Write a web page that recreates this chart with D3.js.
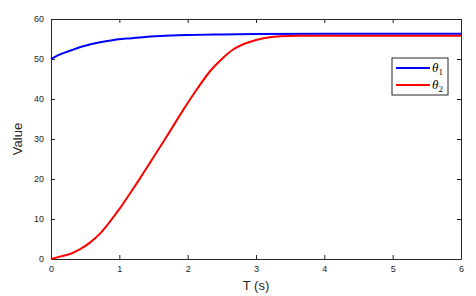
<!DOCTYPE html>
<html>
<head>
<meta charset="utf-8">
<script src="https://cdn.jsdelivr.net/npm/d3@7"></script>
<style>
  body { margin: 0; background: #fff; }
  .axis text { font-family: "Liberation Sans", Arial, sans-serif; font-size: 9px; fill: #262626; }
  .axis path, .axis line { stroke: #262626; }
</style>
</head>
<body>
<div id="chart"></div>
<script>
// time samples and series values
const blueT   = [0, 0.1, 0.2, 0.3, 0.4, 0.5, 0.7, 0.9, 1.1, 1.3, 1.6, 2, 2.5, 3, 4, 5, 6];
const theta1  = [50, 50.9, 51.6, 52.2, 52.8, 53.3, 54.1, 54.7, 55.1, 55.4, 55.75, 56.0, 56.15, 56.25, 56.3, 56.3, 56.3];
const redT    = [0, 0.13, 0.28, 0.42, 0.57, 0.72, 0.86, 1.01, 1.16, 1.3, 1.45, 1.7, 1.94, 2.13, 2.33, 2.5, 2.66, 2.86, 3.11, 3.35, 3.6, 4, 5, 6];
const theta2  = [0, 0.6, 1.25, 2.4, 4.1, 6.4, 9.3, 12.7, 16.5, 20.1, 24.1, 30.8, 37.4, 42.3, 47.0, 50.0, 52.3, 54.0, 55.2, 55.7, 55.8, 55.8, 55.8, 55.8];
const xTicks  = [0, 1, 2, 3, 4, 5, 6];
const yTicks  = [0, 10, 20, 30, 40, 50, 60];

const W = 476, H = 296;
const margin = {top: 19, right: 15, bottom: 37, left: 51};
const w = W - margin.left - margin.right;
const h = H - margin.top - margin.bottom;

const svg = d3.select("#chart").append("svg")
    .attr("width", W).attr("height", H)
  .append("g")
    .attr("transform", `translate(${margin.left},${margin.top})`);

const x = d3.scaleLinear().domain([0, 6]).range([0, w]);
const y = d3.scaleLinear().domain([0, 60]).range([h, 0]);

// axes, ticks pointing inward on all four sides
svg.append("g").attr("class", "axis")
    .attr("transform", `translate(0,${h})`)
    .call(d3.axisBottom(x).tickValues(xTicks).tickFormat(d3.format("d")).tickSize(-4).tickSizeOuter(0).tickPadding(7));
svg.append("g").attr("class", "axis")
    .call(d3.axisLeft(y).tickValues(yTicks).tickSize(-4).tickSizeOuter(0).tickPadding(7));
svg.append("g").attr("class", "axis")
    .call(d3.axisTop(x).tickValues(xTicks).tickSize(-4).tickSizeOuter(0).tickFormat(""));
svg.append("g").attr("class", "axis")
    .attr("transform", `translate(${w},0)`)
    .call(d3.axisRight(y).tickValues(yTicks).tickSize(-4).tickSizeOuter(0).tickFormat(""));

const line = d3.line()
    .x(d => x(d[0]))
    .y(d => y(d[1]))
    .curve(d3.curveMonotoneX);

svg.append("path")
    .datum(blueT.map((t, i) => [t, theta1[i]]))
    .attr("fill", "none").attr("stroke", "#0000ff").attr("stroke-width", 2)
    .attr("d", line);

svg.append("path")
    .datum(redT.map((t, i) => [t, theta2[i]]))
    .attr("fill", "none").attr("stroke", "#ff0000").attr("stroke-width", 2)
    .attr("d", line);

// axis titles
svg.append("text")
    .attr("x", w / 2).attr("y", h + 31)
    .attr("text-anchor", "middle")
    .style("font-family", "Liberation Sans, Arial, sans-serif")
    .style("font-size", "13px").style("fill", "#262626")
    .text("T (s)");

svg.append("text")
    .attr("transform", `translate(${-29},${h / 2}) rotate(-90)`)
    .attr("text-anchor", "middle")
    .style("font-family", "Liberation Sans, Arial, sans-serif")
    .style("font-size", "13px").style("fill", "#262626")
    .text("Value");

// legend
const legend = svg.append("g").attr("transform", `translate(${392 - margin.left},${58 - margin.top})`);
legend.append("rect")
    .attr("width", 56).attr("height", 37)
    .attr("fill", "#fff").attr("stroke", "#262626").attr("stroke-width", 1);

const items = [{name: "1", color: "#0000ff"}, {name: "2", color: "#ff0000"}];
items.forEach((d, i) => {
    const yy = 10 + i * 17;
    legend.append("line")
        .attr("x1", 4).attr("x2", 38).attr("y1", yy).attr("y2", yy)
        .attr("stroke", d.color).attr("stroke-width", 2);
    const t = legend.append("text")
        .attr("x", 40).attr("y", yy + 4)
        .style("font-family", "Liberation Serif, Times New Roman, serif")
        .style("font-size", "13px").style("font-style", "italic").style("fill", "#000");
    t.append("tspan").text("θ");
    t.append("tspan").attr("dy", 3).style("font-size", "9px").style("font-style", "normal").text(d.name);
});
</script>
</body>
</html>
